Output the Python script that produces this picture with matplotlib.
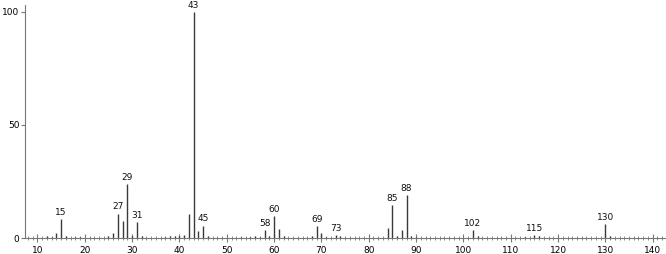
import matplotlib
matplotlib.use("Agg")
import matplotlib.pyplot as plt
from matplotlib.ticker import MultipleLocator

mz = [12, 13, 14, 15, 16, 18, 19, 25, 26, 27, 28, 29, 30, 31, 32,
      37, 38, 39, 40, 41, 42, 43, 44, 45, 46,
      53, 55, 56, 57, 58, 59, 60, 61, 62, 68, 69, 70, 71, 73, 74,
      84, 85, 86, 87, 88, 89, 90,
      102, 103, 113, 115, 116, 130, 131]
intensity = [0.7, 0.5, 2.4, 8.3, 0.9, 0.6, 0.6, 0.7, 2.4, 10.8, 7.5, 23.9, 0.7, 6.9, 0.8,
             0.6, 0.8, 1.0, 1.0, 1.5, 10.5, 100.0, 3.1, 5.5, 1.0,
             0.6, 0.5, 0.8, 0.6, 3.7, 0.7, 9.9, 4.0, 0.8, 0.8, 5.2, 2.1, 0.5, 1.5, 0.7,
             4.3, 14.7, 1.1, 3.4, 19.0, 0.8, 0.5,
             3.7, 0.8, 0.5, 1.3, 0.7, 6.0, 0.8]
labeled = [15, 27, 29, 31, 43, 45, 58, 60, 69, 73, 85, 88, 102, 115, 130]
x_ticks = [10, 20, 30, 40, 50, 60, 70, 80, 90, 100, 110, 120, 130, 140]
y_ticks = [0, 50, 100]

fig = plt.figure(figsize=(6.66, 2.54), dpi=100)
ax = fig.add_axes([25/666, 1-238/254, 1-25/666 - 1/666, 233/254])

ax.vlines(mz, 0, intensity, colors="#3a3a3a", linewidth=1.0)
for m, v in zip(mz, intensity):
    if m in labeled:
        ax.annotate(str(m), (m, v), xytext=(0, 1.5), textcoords="offset points",
                    ha="center", va="bottom", fontsize=6.5, color="#111111",
                    annotation_clip=False)

ax.set_xlim(7.36, 142.6)
ax.set_ylim(0, 103)
for s in ("top", "right"):
    ax.spines[s].set_visible(False)
for s in ("left", "bottom"):
    ax.spines[s].set_color("#777777")
    ax.spines[s].set_linewidth(0.8)

ax.set_xticks(x_ticks)
ax.set_xticklabels([str(t) for t in x_ticks])
ax.xaxis.set_minor_locator(MultipleLocator(1))
ax.set_yticks(y_ticks)
ax.set_yticklabels([str(t) for t in y_ticks])
ax.tick_params(axis="x", which="major", direction="inout", length=6, width=0.8,
               color="#777777", labelsize=6.5, pad=2.5)
ax.tick_params(axis="x", which="minor", direction="inout", length=3, width=0.6,
               color="#777777")
ax.tick_params(axis="y", which="major", direction="out", length=3, width=0.8,
               color="#777777", labelsize=6.5, pad=1)

fig.savefig("out.png", dpi=100)
